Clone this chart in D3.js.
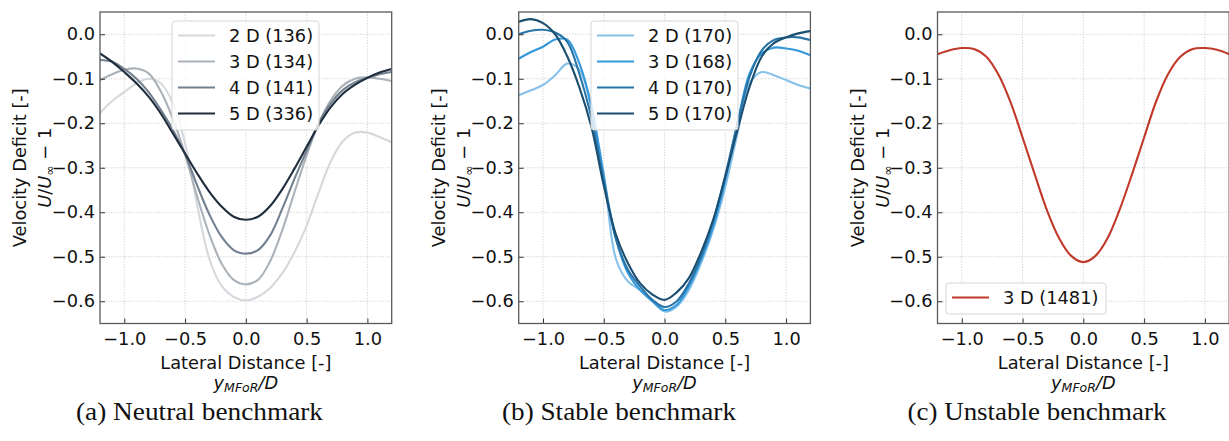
<!DOCTYPE html>
<html>
<head>
<meta charset="utf-8">
<script src="https://cdn.jsdelivr.net/npm/d3@7"></script>
<style>
  body { margin: 0; background: #fff; }
  svg { display: block; }
</style>
</head>
<body>
<svg id="chart"></svg>
<script>
// lateral positions y_MFoR/D shared by every profile
const lateral = [-1.2, -1.1, -1.0, -0.9, -0.8, -0.7, -0.6, -0.5, -0.4, -0.3, -0.2, -0.1, 0.0,
                  0.1, 0.2, 0.3, 0.4, 0.5, 0.6, 0.7, 0.8, 0.9, 1.0, 1.1, 1.2];

// (a) neutral
const neutral2D = [-0.177, -0.15, -0.13, -0.11, -0.10, -0.11, -0.155, -0.245, -0.385, -0.505, -0.565, -0.59, -0.598,
                   -0.59, -0.57, -0.537, -0.49, -0.43, -0.355, -0.285, -0.24, -0.221, -0.221, -0.231, -0.243];
const neutral3D = [-0.103, -0.09, -0.08, -0.077, -0.088, -0.128, -0.19, -0.27, -0.365, -0.45, -0.515, -0.552, -0.562,
                   -0.552, -0.51, -0.44, -0.355, -0.272, -0.2, -0.148, -0.115, -0.1, -0.097, -0.1, -0.105];
const neutral4D = [-0.058, -0.062, -0.078, -0.1, -0.13, -0.17, -0.215, -0.27, -0.34, -0.405, -0.455, -0.485, -0.493,
                   -0.485, -0.452, -0.392, -0.325, -0.262, -0.2, -0.155, -0.125, -0.108, -0.098, -0.09, -0.085];
const neutral5D = [-0.043, -0.062, -0.085, -0.11, -0.14, -0.178, -0.223, -0.268, -0.313, -0.354, -0.387, -0.41, -0.417,
                   -0.41, -0.386, -0.348, -0.302, -0.253, -0.204, -0.163, -0.133, -0.113, -0.098, -0.086, -0.078];

// (b) stable
const stable2D = [-0.137, -0.126, -0.114, -0.092, -0.066, -0.08, -0.17, -0.313, -0.505, -0.556, -0.575, -0.6, -0.623,
                  -0.612, -0.575, -0.515, -0.44, -0.343, -0.223, -0.11, -0.085, -0.092, -0.103, -0.114, -0.122];
const stable3D = [-0.055, -0.04, -0.028, -0.012, -0.012, -0.066, -0.163, -0.32, -0.46, -0.537, -0.575, -0.6, -0.62,
                  -0.608, -0.567, -0.507, -0.432, -0.328, -0.2, -0.088, -0.043, -0.03, -0.032, -0.037, -0.047];
const stable4D = [0.0, 0.008, 0.01, 0.004, -0.017, -0.09, -0.19, -0.33, -0.46, -0.53, -0.567, -0.597, -0.613,
                  -0.6, -0.56, -0.5, -0.42, -0.317, -0.2, -0.095, -0.036, -0.013, -0.007, -0.007, -0.013];
const stable5D = [0.028, 0.034, 0.025, 0.0, -0.05, -0.12, -0.21, -0.34, -0.45, -0.515, -0.56, -0.585, -0.597,
                  -0.58, -0.548, -0.49, -0.417, -0.32, -0.215, -0.118, -0.05, -0.02, -0.007, 0.002, 0.007];

// (c) unstable
const unstable3D = [-0.045, -0.036, -0.031, -0.033, -0.05, -0.09, -0.152, -0.232, -0.315, -0.395, -0.458, -0.498, -0.512,
                    -0.498, -0.458, -0.393, -0.315, -0.232, -0.15, -0.088, -0.05, -0.033, -0.031, -0.035, -0.045];

const yTicks = [0.0, -0.1, -0.2, -0.3, -0.4, -0.5, -0.6];
const xTicks = [-1.0, -0.5, 0.0, 0.5, 1.0];

const panels = [
  { left: 100, caption: '(a) Neutral benchmark', legendX: 172, legendY: 21, legendW: 147,
    series: [
      { label: '2 D (136)', values: neutral2D, color: '#d5d8dc' },
      { label: '3 D (134)', values: neutral3D, color: '#abb2b9' },
      { label: '4 D (141)', values: neutral4D, color: '#738090' },
      { label: '5 D (336)', values: neutral5D, color: '#1f2d3d' }
    ] },
  { left: 518.7, caption: '(b) Stable benchmark', legendX: 591, legendY: 21, legendW: 147,
    series: [
      { label: '2 D (170)', values: stable2D, color: '#85c1e9' },
      { label: '3 D (168)', values: stable3D, color: '#3498db' },
      { label: '4 D (170)', values: stable4D, color: '#2874a6' },
      { label: '5 D (170)', values: stable5D, color: '#1b4f72' }
    ] },
  { left: 937.5, caption: '(c) Unstable benchmark', legendX: 946, legendY: 283, legendW: 160,
    series: [
      { label: '3 D (1481)', values: unstable3D, color: '#c0392b' }
    ] }
];

const width = 1229, height = 441;
const plotTop = 12, plotBottom = 323.5, plotW = 291.7;
const captionW = [247, 234, 259];
const fs = 17.8;

const svg = d3.select('#chart').attr('width', width).attr('height', height);

const y = d3.scaleLinear().domain([-0.65, 0.05]).range([plotBottom, plotTop]);
const sans = 'DejaVu Sans, sans-serif';

panels.forEach((p, i) => {
  const x = d3.scaleLinear().domain([-1.2, 1.2]).range([p.left, p.left + plotW]);
  const g = svg.append('g');

  const clipId = 'clip' + i;
  svg.append('clipPath').attr('id', clipId)
    .append('rect').attr('x', p.left).attr('y', plotTop).attr('width', plotW).attr('height', plotBottom - plotTop);

  // grid
  g.append('g').selectAll('line').data(xTicks).join('line')
    .attr('x1', d => x(d)).attr('x2', d => x(d)).attr('y1', plotTop).attr('y2', plotBottom)
    .attr('stroke', '#c4c4c4').attr('stroke-width', 0.8).attr('stroke-dasharray', '1.2,1.6');
  g.append('g').selectAll('line').data(yTicks).join('line')
    .attr('x1', p.left).attr('x2', p.left + plotW).attr('y1', d => y(d)).attr('y2', d => y(d))
    .attr('stroke', '#c4c4c4').attr('stroke-width', 0.8).attr('stroke-dasharray', '1.2,1.6');

  // lines
  const line = d3.line().x((d, k) => x(lateral[k])).y(d => y(d)).curve(d3.curveCatmullRom.alpha(0.5));
  g.append('g').attr('clip-path', `url(#${clipId})`)
    .selectAll('path').data(p.series).join('path')
    .attr('d', s => line(s.values))
    .attr('fill', 'none').attr('stroke', s => s.color).attr('stroke-width', 2.1)
    .attr('stroke-linejoin', 'round');

  // axes
  const fmt = d => d3.format('.1f')(d).replace('-', '\u2212');
  const ax = g.append('g').attr('transform', `translate(0,${plotBottom})`)
    .call(d3.axisBottom(x).tickValues(xTicks).tickSizeInner(-5).tickSizeOuter(0).tickPadding(9).tickFormat(fmt));
  const ay = g.append('g').attr('transform', `translate(${p.left},0)`)
    .call(d3.axisLeft(y).tickValues(yTicks).tickSizeInner(-5).tickSizeOuter(0).tickPadding(5).tickFormat(fmt));
  [ax, ay].forEach(a => {
    a.select('.domain').remove();
    a.selectAll('.tick line').attr('stroke', '#333').attr('stroke-width', 1);
    a.selectAll('.tick text').attr('font-family', sans).attr('font-size', fs).attr('fill', '#111');
  });

  // frame
  g.append('rect').attr('x', p.left).attr('y', plotTop).attr('width', plotW).attr('height', plotBottom - plotTop)
    .attr('fill', 'none').attr('stroke', '#5a5a5a').attr('stroke-width', 1.3);

  // legend
  const rowH = 26;
  const lg = g.append('g');
  lg.append('rect').attr('x', p.legendX).attr('y', p.legendY).attr('width', p.legendW)
    .attr('height', p.series.length * rowH + 5).attr('rx', 3)
    .attr('fill', 'white').attr('fill-opacity', 0.8).attr('stroke', '#d6d6d6').attr('stroke-width', 1);
  p.series.forEach((s, k) => {
    const cy = p.legendY + 14.5 + k * rowH;
    lg.append('line').attr('x1', p.legendX + 6).attr('x2', p.legendX + 43).attr('y1', cy).attr('y2', cy)
      .attr('stroke', s.color).attr('stroke-width', 2.1);
    lg.append('text').attr('x', p.legendX + 57).attr('y', cy + 6.5).attr('font-family', sans)
      .attr('font-size', fs).attr('fill', '#111').text(s.label);
  });

  // axis labels
  const cx = p.left + plotW / 2;
  g.append('text').attr('x', cx).attr('y', 369).attr('text-anchor', 'middle')
    .attr('font-family', sans).attr('font-size', fs).attr('fill', '#111').text('Lateral Distance [-]');
  const xl2 = g.append('text').attr('x', cx).attr('y', 389).attr('text-anchor', 'middle')
    .attr('font-family', sans).attr('font-size', fs).attr('fill', '#111').attr('font-style', 'italic');
  xl2.append('tspan').text('y');
  xl2.append('tspan').attr('font-size', 12.5).attr('dy', 3).text('MFoR');
  xl2.append('tspan').attr('dy', -3).text('/D');

  const cy = (plotTop + plotBottom) / 2;
  g.append('text').attr('transform', `translate(${p.left - 74},${cy}) rotate(-90)`)
    .attr('text-anchor', 'middle').attr('font-family', sans).attr('font-size', fs).attr('fill', '#111')
    .text('Velocity Deficit [-]');
  const yl2 = g.append('text').attr('transform', `translate(${p.left - 49},${cy}) rotate(-90)`)
    .attr('text-anchor', 'middle').attr('font-family', sans).attr('font-size', fs).attr('fill', '#111');
  yl2.append('tspan').attr('font-style', 'italic').text('U');
  yl2.append('tspan').text('/');
  yl2.append('tspan').attr('font-style', 'italic').text('U');
  yl2.append('tspan').attr('font-size', 12.5).attr('dy', 3).text('\u221e');
  yl2.append('tspan').attr('dy', -3).text(' \u2212 1');

  // caption
  const capCenter = [199.5, 619, 1037][i];
  g.append('text').attr('x', capCenter).attr('y', 420).attr('text-anchor', 'middle')
    .attr('font-family', 'Liberation Serif, serif').attr('font-size', 25).attr('fill', '#111')
    .attr('textLength', captionW[i]).attr('lengthAdjust', 'spacingAndGlyphs')
    .text(p.caption);
});
</script>
</body>
</html>
